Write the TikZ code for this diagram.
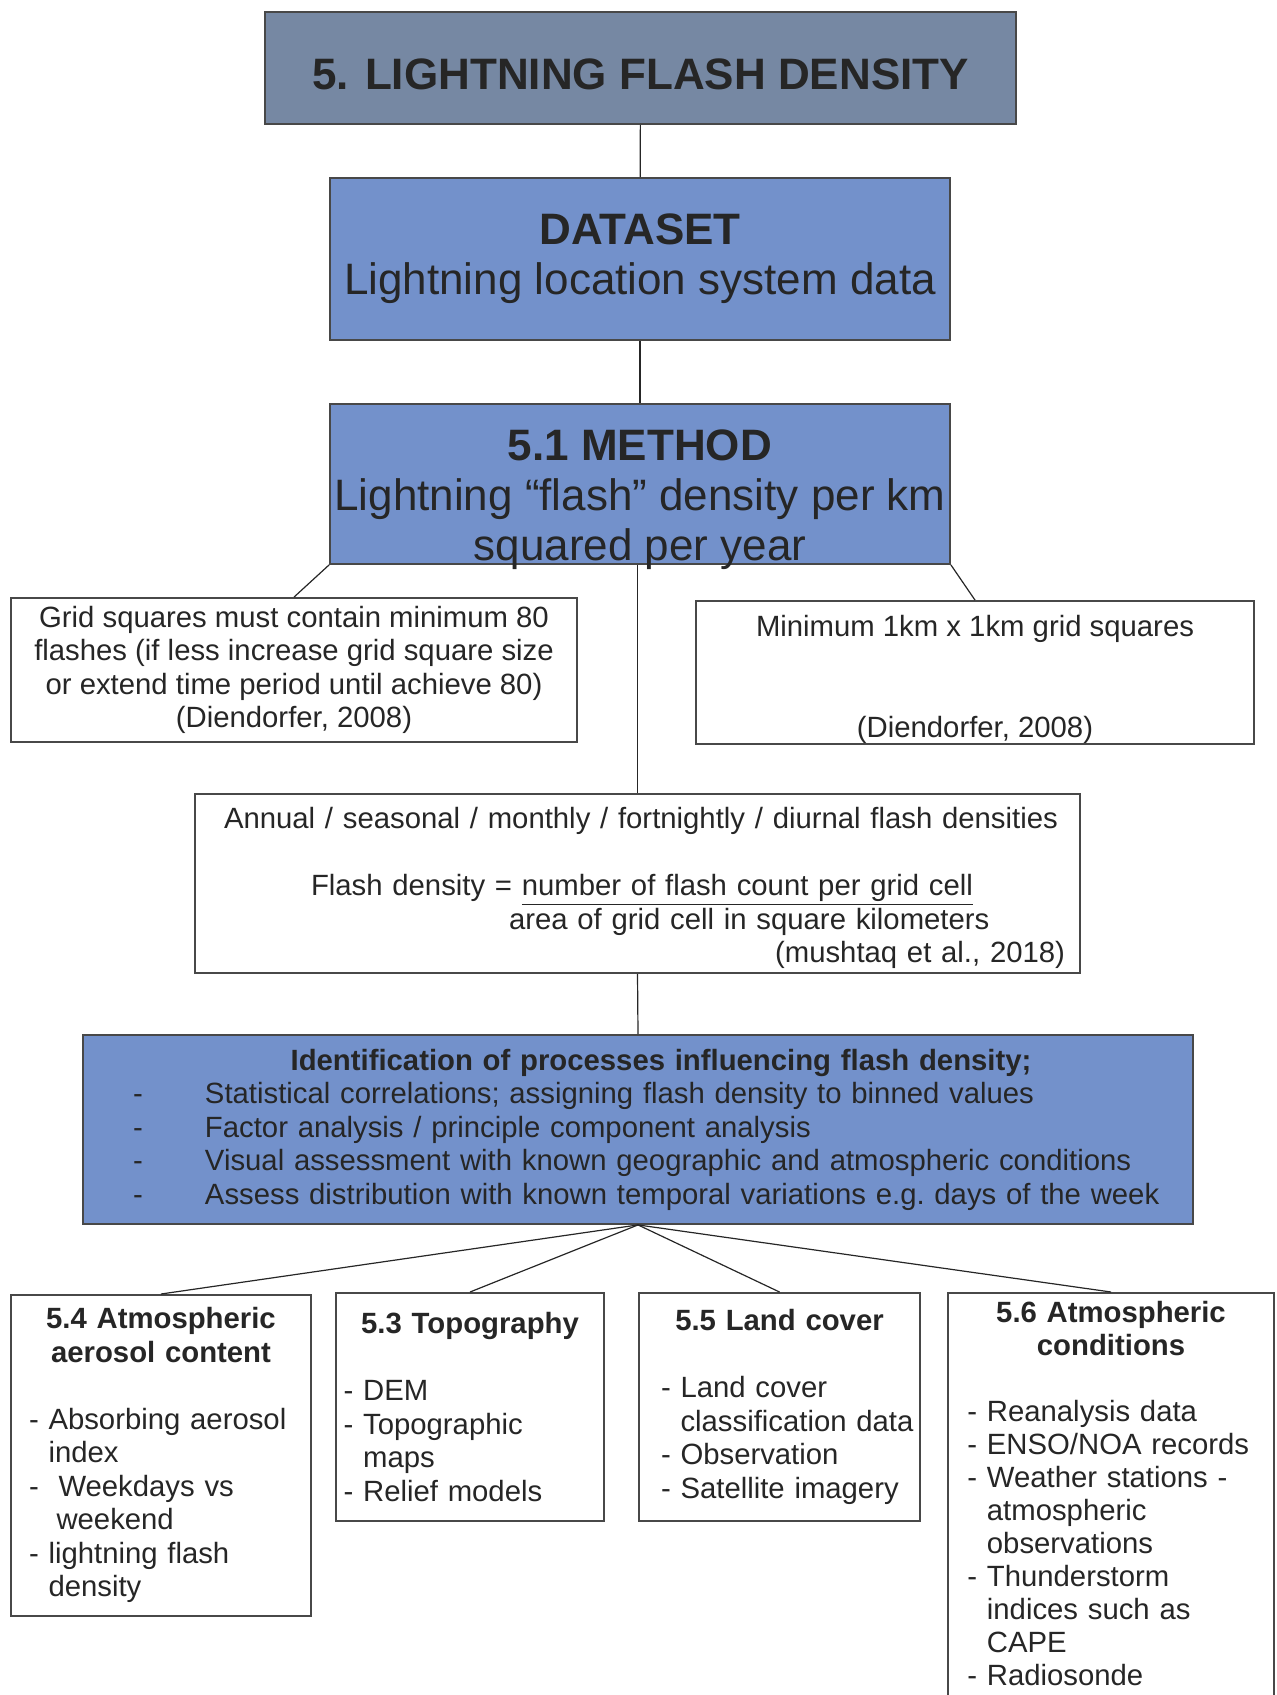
\documentclass[tikz,border=0pt]{standalone}
\usepackage{fontspec}
\setmainfont{Liberation Sans}

\definecolor{slate}{HTML}{7688A3}
\definecolor{stepblue}{HTML}{7391CB}
\definecolor{ink}{HTML}{262626}
\definecolor{rim}{HTML}{484848}

\tikzstyle{block}=[rectangle,draw=rim,line width=0.9pt,text=ink,inner sep=0pt]
\tikzstyle{headblock}=[block,fill=stepblue,align=center,font=\fontsize{22pt}{24.8pt}\selectfont]
\tikzstyle{noteblock}=[block,fill=white,font=\fontsize{14.65pt}{16.75pt}\selectfont]
\tikzstyle{link}=[draw=ink,line width=0.6pt]

\begin{document}
\begin{tikzpicture}[x=0.5pt,y=-0.5pt]
	\useasboundingbox (0,0) rectangle (1277,1695);
	%\draw (0,0) rectangle (1277,1695);

	% Title
	\node[block,fill=slate,minimum width=375.5pt,minimum height=56pt,text height=21.2pt,text depth=0pt,font=\bfseries\fontsize{22pt}{26pt}\selectfont] (title) at (640.5,68) {5. LIGHTNING FLASH DENSITY};

	% Data and method
	\node[headblock,minimum width=310pt,minimum height=81pt] (data) at (640,259) {\textbf{DATASET}\\Lightning location system data};
	\node[headblock,minimum width=310pt,minimum height=80pt] (method) at (640,484) {\rule{0pt}{26.4pt}\textbf{5.1 METHOD}\\Lightning “flash” density per km\\\smash{squared per year}};

	% Grid squares
	\node[noteblock,align=center,minimum width=283pt,minimum height=72pt] (gridmin) at (294,670) {Grid squares must contain minimum 80\\flashes (if less increase grid square size\\or extend time period until achieve 80)\\(Diendorfer, 2008)};
	\node[noteblock,align=center,minimum width=279pt,minimum height=71.5pt] (gridkm) at (975,672.5) {\rule{0pt}{17.5pt}Minimum 1km x 1km grid squares\\[33.5pt](Diendorfer, 2008)};

	% Flash density
	\node[noteblock,align=left,text width=442.5pt,minimum height=89.5pt] (density) at (637.5,883.5) {\rule{0pt}{15.5pt}\hspace*{14.5pt}Annual / seasonal / monthly / fortnightly / diurnal flash densities\\[16.75pt]
		\hspace*{58pt}Flash density = \underline{number of flash count per grid cell}\\
		\hspace*{157pt}area of grid cell in square kilometers\\
		\hfill(mushtaq et al., 2018)\hspace*{7.5pt}};

	% Processes
	\node[block,fill=stepblue,align=left,text width=555pt,minimum height=94.5pt,font=\fontsize{14.65pt}{16.75pt}\selectfont] (process) at (638,1129.5) {\makebox[\hsize]{\hspace*{23pt}\bfseries Identification of processes influencing flash density;}\\
		\hspace*{25pt}\makebox[36pt][l]{-}Statistical correlations; assigning flash density to binned values\\
		\hspace*{25pt}\makebox[36pt][l]{-}Factor analysis / principle component analysis\\
		\hspace*{25pt}\makebox[36pt][l]{-}Visual assessment with known geographic and atmospheric conditions\\
		\hspace*{25pt}\makebox[36pt][l]{-}Assess distribution with known temporal variations e.g.\ days of the week};

	% Factors
	\node[noteblock,align=left,text width=150pt,minimum height=160.5pt,anchor=north] (aerosol) at (161,1294) {\makebox[\hsize]{\bfseries 5.4 Atmospheric}\\
		\makebox[\hsize]{\bfseries aerosol content}\\[16.75pt]
		\hspace*{9pt}- Absorbing aerosol\\
		\hspace*{9pt}\phantom{- }index\\
		\hspace*{9pt}- \hspace{5pt}Weekdays vs\\
		\hspace*{9pt}\phantom{- }\hspace{4pt}weekend\\
		\hspace*{9pt}- lightning flash\\
		\hspace*{9pt}\phantom{- }density};
	\node[noteblock,align=left,text width=134pt,minimum height=114pt,anchor=north] (topo) at (470,1292) {\makebox[\hsize]{\bfseries 5.3 Topography}\\[16.75pt]
		\hspace*{3.8pt}- DEM\\
		\hspace*{3.8pt}- Topographic\\
		\hspace*{3.8pt}\phantom{- }maps\\
		\hspace*{3.8pt}- Relief models};
	\node[noteblock,align=left,text width=140.5pt,minimum height=114pt,anchor=north] (landcover) at (779.5,1292) {\makebox[\hsize]{\bfseries 5.5 Land cover}\\[16.75pt]
		\hspace*{11pt}- Land cover\\
		\hspace*{11pt}\phantom{- }classification data\\
		\hspace*{11pt}- Observation\\
		\hspace*{11pt}- Satellite imagery};
	\node[noteblock,align=left,text width=163pt,inner ysep=4pt,anchor=north,font=\fontsize{14.65pt}{16.5pt}\selectfont] (atmos) at (1111,1292) {\makebox[\hsize]{\bfseries 5.6 Atmospheric}\\
		\makebox[\hsize]{\bfseries conditions}\\[16.5pt]
		\hspace*{9.7pt}- Reanalysis data\\
		\hspace*{9.7pt}- ENSO/NOA records\\
		\hspace*{9.7pt}- Weather stations -\\
		\hspace*{9.7pt}\phantom{- }atmospheric\\
		\hspace*{9.7pt}\phantom{- }observations\\
		\hspace*{9.7pt}- Thunderstorm\\
		\hspace*{9.7pt}\phantom{- }indices such as\\
		\hspace*{9.7pt}\phantom{- }CAPE\\
		\hspace*{9.7pt}- Radiosonde\rule[-14pt]{0pt}{14pt}};

	% Links
	\draw[link] (title) -- (data);
	\draw[link] (data) -- (method);
	\draw[link] (method.south west) -- (gridmin.north);
	\draw[link] (method.south east) -- (gridkm.north);
	\draw[link] (density.north) -- (density.north |- method.south);
	\draw[link] (density.south) -- (process.north);
	\foreach \f in {aerosol,topo,landcover,atmos}
		\draw[link] (process.south) -- (\f.north);
\end{tikzpicture}
\end{document}
